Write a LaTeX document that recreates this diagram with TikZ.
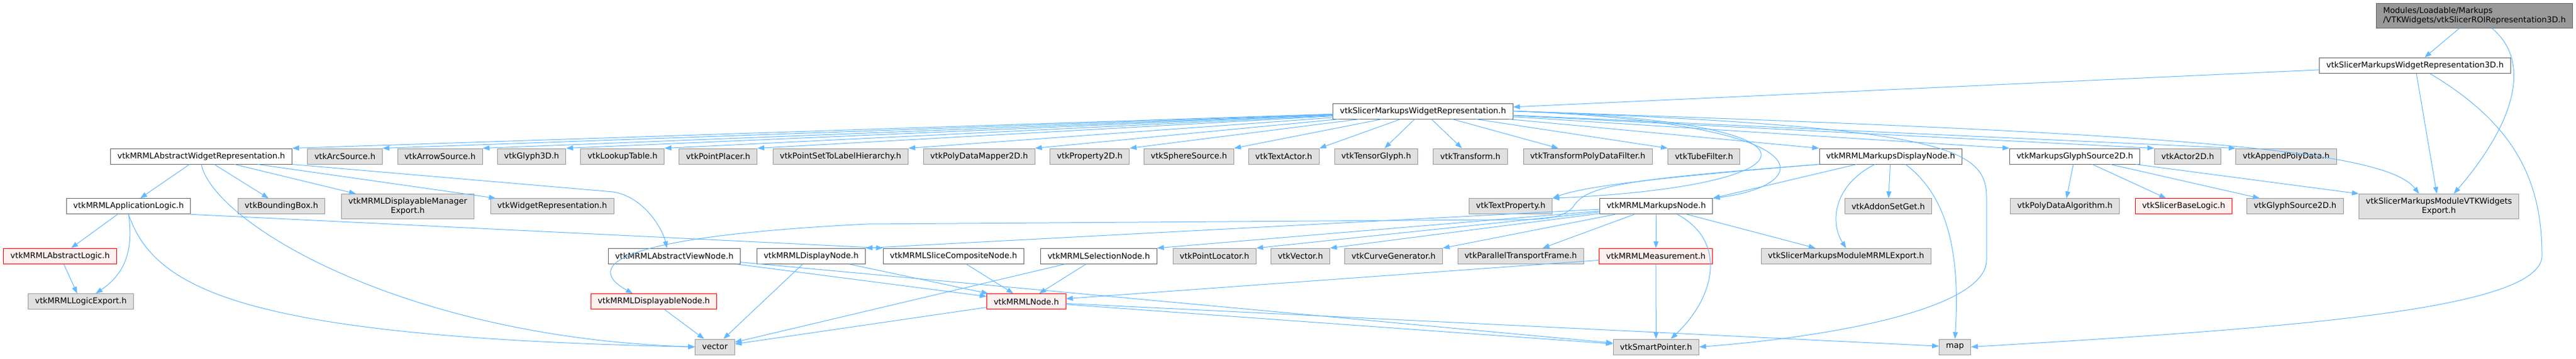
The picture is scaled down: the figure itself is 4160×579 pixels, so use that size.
\documentclass[tikz,border=0pt]{standalone}
\usepackage{fontspec}
\setmainfont{DejaVu Sans}
\usetikzlibrary{arrows.meta}
\definecolor{edgeblue}{HTML}{63B8FF}
\definecolor{boxgray}{HTML}{E0E0E0}
\definecolor{rimgray}{HTML}{999999}
\definecolor{rimdark}{HTML}{666666}
\definecolor{rootfill}{HTML}{999999}
\definecolor{redfill}{HTML}{FFF0F0}
\begin{document}
\begin{tikzpicture}[x=0.5pt,y=-0.5pt,
  hdr/.style={draw=rimdark,fill=white,line width=0.5pt,inner xsep=5.5pt,inner ysep=3pt,
    minimum height=12.5pt,font=\fontsize{6.5}{7.5}\selectfont,align=center},
  ext/.style={hdr,draw=rimgray,fill=boxgray},
  bad/.style={hdr,draw=red,fill=redfill},
  dep/.style={draw=edgeblue,line width=0.5pt,-{Triangle[length=5.5pt,width=4pt]}}]
\useasboundingbox (0,0) rectangle (4160,579);

\node[hdr,fill=rootfill,align=left] (root) at (3996,25.3) {Modules/Loadable/Markups\\/VTKWidgets/vtkSlicerROIRepresentation3D.h};
\node[hdr] (w3d) at (3900,105.8) {vtkSlicerMarkupsWidgetRepresentation3D.h};
\node[hdr] (wr) at (2298,179.5) {vtkSlicerMarkupsWidgetRepresentation.h};

% row of direct includes
\node[hdr] (awr)       at (325,252.5)    {vtkMRMLAbstractWidgetRepresentation.h};
\node[ext] (arc)       at (557,252.5)    {vtkArcSource.h};
\node[ext] (arrow)     at (710.5,252.5)  {vtkArrowSource.h};
\node[ext] (glyph3d)   at (858.5,252.5)  {vtkGlyph3D.h};
\node[ext] (lut)       at (1005.4,252.5) {vtkLookupTable.h};
\node[ext] (placer)    at (1159.8,252.5) {vtkPointPlacer.h};
\node[ext] (pstlh)     at (1357.4,252.5) {vtkPointSetToLabelHierarchy.h};
\node[ext] (pdm)       at (1581.2,252.5) {vtkPolyDataMapper2D.h};
\node[ext] (prop2d)    at (1759.9,252.5) {vtkProperty2D.h};
\node[ext] (sphere)    at (1919.9,252.5) {vtkSphereSource.h};
\node[ext] (textactor) at (2073.2,252.5) {vtkTextActor.h};
\node[ext] (tensor)    at (2222.5,252.5) {vtkTensorGlyph.h};
\node[ext] (transform) at (2374.5,252.5) {vtkTransform.h};
\node[ext] (tpdf)      at (2564,252.5)   {vtkTransformPolyDataFilter.h};
\node[ext] (tube)      at (2751.8,252.5) {vtkTubeFilter.h};
\node[hdr] (mdn)       at (3053.1,252.5) {vtkMRMLMarkupsDisplayNode.h};
\node[hdr] (mgs)       at (3350.7,252.5) {vtkMarkupsGlyphSource2D.h};
\node[ext] (actor2d)   at (3533,252.5)   {vtkActor2D.h};
\node[ext] (append)    at (3691.9,252.5) {vtkAppendPolyData.h};

\node[hdr] (applogic)  at (207.6,333.3)  {vtkMRMLApplicationLogic.h};
\node[ext] (bbox)      at (454.5,333.3)  {vtkBoundingBox.h};
\node[ext] (dmexport)  at (658.5,333.3)  {vtkMRMLDisplayableManager\\Export.h};
\node[ext] (widgetrep) at (891.7,333.3)  {vtkWidgetRepresentation.h};
\node[ext] (textprop)  at (2439.7,333.3) {vtkTextProperty.h};
\node[hdr] (mn)        at (2674.6,333.3) {vtkMRMLMarkupsNode.h};
\node[ext] (addon)     at (3049.3,333.3) {vtkAddonSetGet.h};
\node[ext] (pdalg)     at (3334.6,333.3) {vtkPolyDataAlgorithm.h};
\node[bad] (baselogic) at (3526.4,333.3) {vtkSlicerBaseLogic.h};
\node[ext] (glyph2d)   at (3706.4,333.3) {vtkGlyphSource2D.h};
\node[ext] (vtkexport) at (3938.6,333.3) {vtkSlicerMarkupsModuleVTKWidgets\\Export.h};

\node[bad] (abslogic)   at (97.1,413.8)   {vtkMRMLAbstractLogic.h};
\node[hdr] (absview)    at (1089,413.8)   {vtkMRMLAbstractViewNode.h};
\node[hdr] (dispnode)   at (1309.9,413.8) {vtkMRMLDisplayNode.h};
\node[hdr] (slicecomp)  at (1539.8,413.8) {vtkMRMLSliceCompositeNode.h};
\node[hdr] (selnode)    at (1774.4,413.8) {vtkMRMLSelectionNode.h};
\node[ext] (locator)    at (1961.2,413.8) {vtkPointLocator.h};
\node[ext] (vtkvector)  at (2100,413.8)   {vtkVector.h};
\node[ext] (curvegen)   at (2250.5,413.8) {vtkCurveGenerator.h};
\node[ext] (ptframe)    at (2455.8,413.8) {vtkParallelTransportFrame.h};
\node[bad] (measure)    at (2674.1,413.8) {vtkMRMLMeasurement.h};
\node[ext] (mrmlexport) at (2981.25,413.8) {vtkSlicerMarkupsModuleMRMLExport.h};

\node[ext] (logicexport) at (130.6,487.2)  {vtkMRMLLogicExport.h};
\node[bad] (displayable) at (1055.8,487.2) {vtkMRMLDisplayableNode.h};
\node[bad] (mrmlnode)    at (1657.4,487.2) {vtkMRMLNode.h};

\node[ext] (vector)   at (1154.5,560.5) {vector};
\node[ext] (smartptr) at (2674.3,560.5) {vtkSmartPointer.h};
\node[ext] (map)      at (3157.1,560.5) {map};

% top of the graph
\draw[dep] (root) -- (w3d);
\draw[dep] ([xshift=14pt]root.south) .. controls (4090,100) and (4060,200) .. ([xshift=12pt]vtkexport.north);
\draw[dep] (w3d) -- (wr);
\draw[dep] (w3d) -- (vtkexport);
\draw[dep] ([xshift=12pt]w3d.south) .. controls (4060,200) and (4105,290) .. (4105,413)
  .. controls (4105,500) and (3700,530) .. (map.east);

% widget representation
\foreach \t/\a in {awr/.north east,arc/.north east,arrow/.north east,glyph3d/.north east,
  lut/.north east,placer/.north east,pstlh/.north east,pdm/.north east,prop2d/.north east,
  sphere/.north east,textactor/.north east,tensor/,transform/,tpdf/,
  tube/.north west,mdn/.north west,mgs/.north west,actor2d/.north west,append/.north west}
  \draw[dep] (wr) -- (\t\a);
\draw[dep] (wr.east) .. controls (3500,215) and (3850,240) .. ([xshift=-16pt]vtkexport.north);
\draw[dep] (wr.east) .. controls (2980,195) and (2950,300) .. (textprop.north east);
\draw[dep] (wr.east) .. controls (2960,200) and (2930,300) .. (mn.north east);
\draw[dep] (wr.east) .. controls (3150,205) and (3208,240) .. (3208,320) -- (3208,420)
  .. controls (3208,500) and (2950,545) .. (smartptr.east);

% abstract widget representation
\draw[dep] (awr) -- (applogic);
\draw[dep] (awr) -- (bbox);
\draw[dep] (awr) -- (dmexport);
\draw[dep] (awr) -- (widgetrep);
\draw[dep] (awr.south east) -- (990,310) .. controls (1040,318) and (1070,370) .. ([xshift=-6pt]absview.north);
\draw[dep] (awr.south) .. controls (345,360) and (650,545) .. (vector.west);

% application logic
\draw[dep] (applogic) -- (abslogic);
\draw[dep] (applogic.south) .. controls (215,400) and (205,440) .. ([xshift=12pt]logicexport.north);
\draw[dep] (applogic.south) .. controls (250,470) and (400,545) .. (vector.west);
\draw[dep] (applogic.south east) -- (slicecomp.north west);
\draw[dep] (abslogic) -- (logicexport);

% markups display node
\draw[dep] (mdn.south west) .. controls (2620,290) and (2560,300) .. (2540,335)
  .. controls (2520,356) and (2480,355) .. (2420,355) -- (1400,362)
  .. controls (940,385) and (960,440) .. ([xshift=-17pt]displayable.north);
\draw[dep] (mdn.south west) .. controls (2700,285) and (2560,300) .. (textprop.north east);
\draw[dep] (mdn) -- (mn.north east);
\draw[dep] (mdn) -- (addon);
\draw[dep] (mdn) .. controls (2960,300) and (2955,360) .. (mrmlexport.north);
\draw[dep] ([xshift=12pt]mdn.south) .. controls (3150,320) and (3165,420) .. (map.north);

% markups node
\draw[dep] (mn) -- (dispnode.north east);
\draw[dep] (mn) -- (selnode.north east);
\draw[dep] (mn) -- (locator.north east);
\draw[dep] (mn) -- (vtkvector.north east);
\draw[dep] (mn) -- (curvegen.north east);
\draw[dep] (mn) -- (ptframe);
\draw[dep] (mn) -- (measure);
\draw[dep] (mn) -- (mrmlexport);
\draw[dep] ([xshift=17pt]mn.south) .. controls (2790,390) and (2770,480) .. ([xshift=12pt]smartptr.north);

% glyph source
\draw[dep] (mgs) -- (pdalg);
\draw[dep] (mgs) -- (baselogic);
\draw[dep] (mgs) -- (glyph2d);
\draw[dep] (mgs) -- (vtkexport.north west);

% MRML core
\draw[dep] (absview) -- (mrmlnode);
\draw[dep] (absview) -- (smartptr);
\draw[dep] (dispnode) -- (mrmlnode);
\draw[dep] (dispnode) -- (vector);
\draw[dep] (displayable) -- (vector);
\draw[dep] (slicecomp) -- (mrmlnode);
\draw[dep] (selnode) -- (mrmlnode);
\draw[dep] (selnode) -- (vector);
\draw[dep] (measure) -- (mrmlnode);
\draw[dep] (measure) -- (smartptr);
\draw[dep] (mrmlnode) -- (vector);
\draw[dep] (mrmlnode) -- (map);
\draw[dep] (mrmlnode) -- (smartptr);
\end{tikzpicture}
\end{document}
